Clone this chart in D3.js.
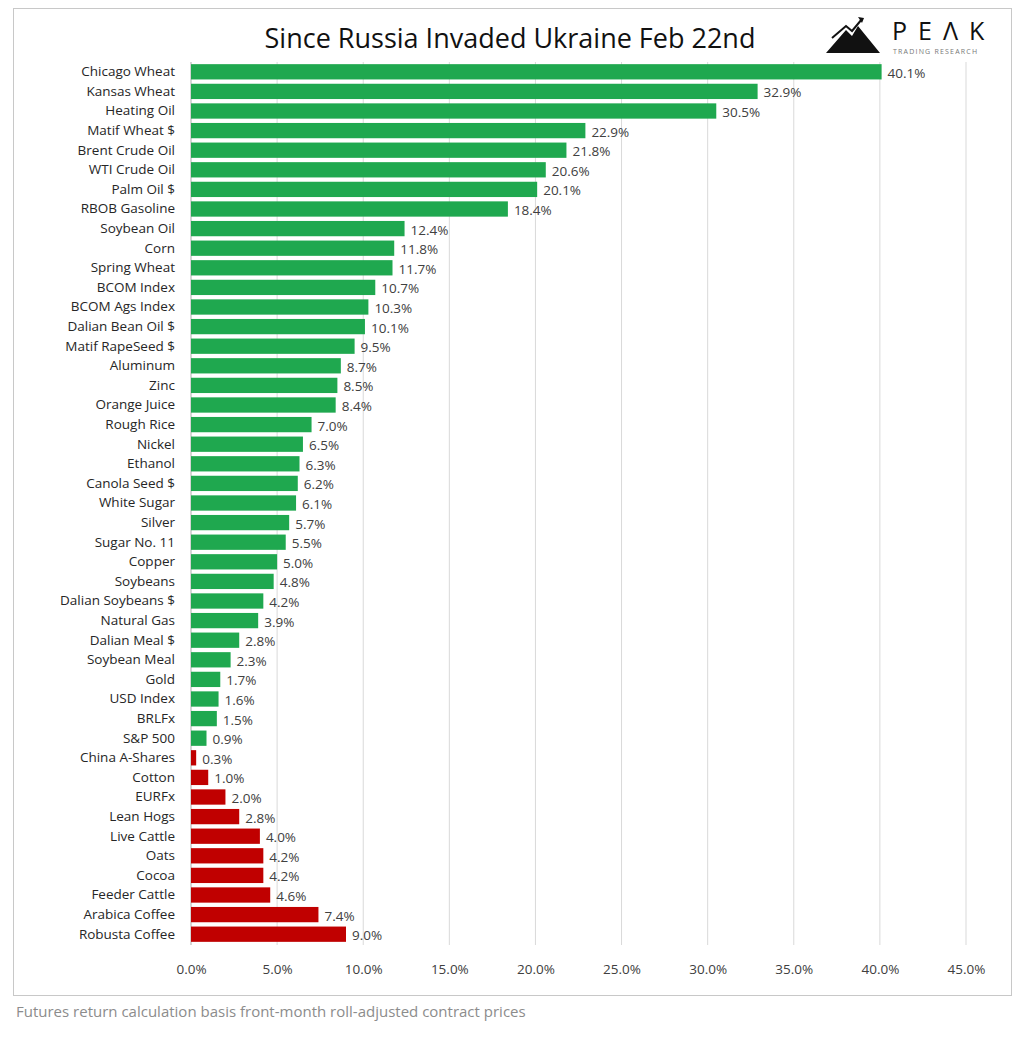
<!DOCTYPE html>
<html><head><meta charset="utf-8">
<script src="https://cdn.jsdelivr.net/npm/d3@7"></script>
<style>body{margin:0;background:#fff}</style></head>
<body><svg id="c" width="1024" height="1041"></svg>
<script>
const categories=["Chicago Wheat","Kansas Wheat","Heating Oil","Matif Wheat $","Brent Crude Oil","WTI Crude Oil","Palm Oil $","RBOB Gasoline","Soybean Oil","Corn","Spring Wheat","BCOM Index","BCOM Ags Index","Dalian Bean Oil $","Matif RapeSeed $","Aluminum","Zinc","Orange Juice","Rough Rice","Nickel","Ethanol","Canola Seed $","White Sugar","Silver","Sugar No. 11","Copper","Soybeans","Dalian Soybeans $","Natural Gas","Dalian Meal $","Soybean Meal","Gold","USD Index","BRLFx","S&P 500","China A-Shares","Cotton","EURFx","Lean Hogs","Live Cattle","Oats","Cocoa","Feeder Cattle","Arabica Coffee","Robusta Coffee"];
const values=[40.1,32.9,30.5,22.9,21.8,20.6,20.1,18.4,12.4,11.8,11.7,10.7,10.3,10.1,9.5,8.7,8.5,8.4,7.0,6.5,6.3,6.2,6.1,5.7,5.5,5.0,4.8,4.2,3.9,2.8,2.3,1.7,1.6,1.5,0.9,0.3,1.0,2.0,2.8,4.0,4.2,4.2,4.6,7.4,9.0];
const negative=[0,0,0,0,0,0,0,0,0,0,0,0,0,0,0,0,0,0,0,0,0,0,0,0,0,0,0,0,0,0,0,0,0,0,0,1,1,1,1,1,1,1,1,1,1];
const ticks=[0,5,10,15,20,25,30,35,40,45];
const svg=d3.select("#c");
const F="'Open Sans', sans-serif";
svg.append("rect").attr("x",13.5).attr("y",8.5).attr("width",998).attr("height",987).attr("fill","#fff").attr("stroke","#c8c8c8");
const x=d3.scaleLinear().domain([0,45]).range([191,966]);
const y=d3.scaleBand().domain(categories).range([62,944]).paddingInner(0.22).paddingOuter(0.11);
ticks.forEach(t=>{svg.append("line").attr("x1",x(t)).attr("x2",x(t)).attr("y1",62).attr("y2",945).attr("stroke","#d9d9d9");});
const xa=svg.append("g").attr("transform","translate(0,945)").call(d3.axisBottom(x).tickValues(ticks).tickFormat(d=>d.toFixed(1)+"%").tickSize(0).tickPadding(19));
xa.select(".domain").remove();
xa.selectAll("text").attr("font-family",F).attr("font-size",13.5).attr("fill","#404040");
const ya=svg.append("g").attr("transform","translate(183,0)").call(d3.axisLeft(y).tickSize(0).tickPadding(8));
ya.select(".domain").remove();
ya.selectAll("text").attr("font-family",F).attr("font-size",13.5).attr("fill","#262626");
svg.append("line").attr("x1",191).attr("x2",191).attr("y1",62).attr("y2",945).attr("stroke","#bfbfbf");
categories.forEach((c,i)=>{
 svg.append("rect").attr("x",x(0)).attr("y",y(c)).attr("width",x(values[i])-x(0)).attr("height",y.bandwidth()).attr("fill",negative[i]?"#c00000":"#1fa84f");
 svg.append("text").attr("x",x(values[i])+6).attr("y",y(c)+y.bandwidth()/2+6).attr("font-family",F).attr("font-size",13.5).attr("fill","#404040").text(values[i].toFixed(1)+"%");
});
svg.append("text").attr("x",510).attr("y",48).attr("text-anchor","middle").attr("font-family",F).attr("font-size",27).attr("fill","#111").text("Since Russia Invaded Ukraine Feb 22nd");
// logo
const g=svg.append("g");
g.append("path").attr("d","M826,53 L846,30 L852,36 L858,26 L880,53 Z").attr("fill","#111");
g.append("path").attr("d","M832,38 L846,26 L852,31 L862,19").attr("fill","none").attr("stroke","#111").attr("stroke-width",2);
g.append("path").attr("d","M858,17 L864,18 L862,23 Z").attr("fill","#111");
g.append("text").attr("x",892).attr("y",40).attr("font-family","'Open Sans',sans-serif").attr("font-size",25).attr("letter-spacing",11).attr("fill","#111").text("PEΛK");
g.append("text").attr("x",893).attr("y",54).attr("font-family","'Open Sans',sans-serif").attr("font-size",7).attr("letter-spacing",1.2).attr("fill","#777").text("TRADING RESEARCH");
svg.append("text").attr("x",16).attr("y",1017).attr("font-family",F).attr("font-size",15).attr("fill","#8c8c8c").text("Futures return calculation basis front-month roll-adjusted contract prices");
</script></body></html>
